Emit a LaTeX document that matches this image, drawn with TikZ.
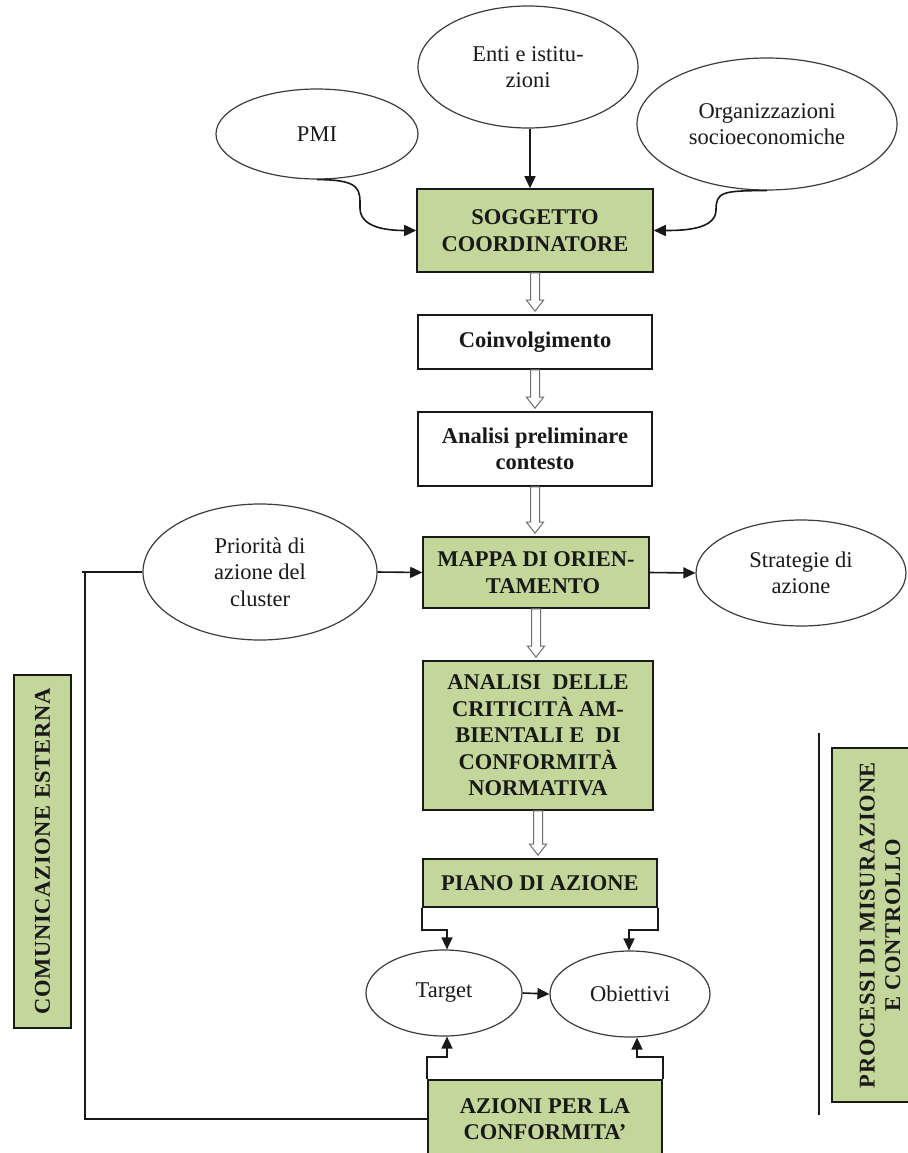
\documentclass[tikz,border=0pt]{standalone}
\usepackage{fontspec}
\setmainfont{Liberation Serif}
\usetikzlibrary{shapes.geometric,arrows.meta,calc}
\definecolor{boxgreen}{RGB}{196,215,155}
\definecolor{ink}{RGB}{25,25,25}
\definecolor{hollowgray}{RGB}{110,110,110}
\newcommand{\hollowarrow}[2]{%
  \draw[hollowstyle] let \p1=(#1.south), \p2=(#2.north) in
   (\x1-4.5pt,\y1) -- (\x1+4.5pt,\y1) -- (\x1+4.5pt,\y2+14pt) -- (\x1+8.5pt,\y2+14pt)
   -- (\x1,\y2+3pt) -- (\x1-8.5pt,\y2+14pt) -- (\x1-4.5pt,\y2+14pt) -- cycle;}
\begin{document}
\begin{tikzpicture}[x=1pt,y=-1pt,
  txt/.style={font=\fontsize{22.5}{26.5}\selectfont, text=ink, align=center, inner sep=0pt},
  gbox/.style={txt, draw=ink, line width=1.6pt, fill=boxgreen, font=\fontsize{22.5}{26.5}\selectfont\bfseries},
  wbox/.style={gbox, fill=white},
  sidebox/.style={gbox, font=\fontsize{22.5}{25.5}\selectfont\bfseries\addfontfeature{LetterSpace=3}},
  oval/.style={txt, ellipse, draw=ink!85, line width=1.2pt, fill=white},
  conn/.style={draw=ink, line width=1.6pt, -{Triangle[length=12pt,width=11pt]}},
  plain/.style={draw=ink, line width=1.5pt},
  hollowstyle/.style={draw=hollowgray, line width=1pt, fill=white}]
\fill[white] (0,0) rectangle (907,1153);
\useasboundingbox (0,0) rectangle (907,1153);

% top ellipses
\node[oval, minimum width=202pt, minimum height=90pt] (pmi) at (317,134) {PMI};
\node[oval, minimum width=220pt, minimum height=122pt] (enti) at (528,67) {Enti e istitu-\\zioni};
\node[oval, minimum width=260pt, minimum height=132pt] (org) at (767,124) {Organizzazioni\\socioeconomiche};

% main column
\node[gbox, minimum width=236pt, minimum height=83pt] (sog) at (535,230.5) {SOGGETTO\\COORDINATORE};
\node[wbox, minimum width=234pt, minimum height=54pt] (coin) at (535,342) {Coinvolgimento};
\node[wbox, minimum width=234pt, minimum height=74pt] (ana) at (535,449) {Analisi preliminare\\contesto};
\node[gbox, minimum width=226pt, minimum height=71pt] (mappa) at (536,572.5) {MAPPA DI ORIEN-\\\hspace*{14pt}TAMENTO};
\node[gbox, minimum width=230pt, minimum height=149pt] (crit) at (538,735.5) {ANALISI\ \ DELLE\\CRITICITÀ AM-\\BIENTALI E\ \ DI\\CONFORMITÀ\\NORMATIVA};
\node[gbox, minimum width=234pt, minimum height=48pt] (piano) at (540,883) {PIANO DI AZIONE};
\node[oval, minimum width=156pt, minimum height=86pt] (target) at (444,993) {Target};
\node[oval, minimum width=160pt, minimum height=86pt] (obj) at (630,994) {Obiettivi};
\node[gbox, minimum width=234pt, minimum height=78pt] (az) at (545,1119) {AZIONI PER LA\\CONFORMITA'};

% side ellipses
\node[oval, minimum width=234pt, minimum height=136pt] (prio) at (260,572) {Priorità di\\azione del\\cluster};
\node[oval, minimum width=210pt, minimum height=106pt] (strat) at (801,573) {Strategie di\\azione};

% side boxes
\node[sidebox, rotate=90, minimum width=353pt, minimum height=57pt] (com) at (42.5,851.5) {COMUNICAZIONE ESTERNA};
\node[sidebox, rotate=90, minimum width=354pt, minimum height=96pt] (proc) at (880,925) {PROCESSI DI MISURAZIONE\\E CONTROLLO};

% connectors
\draw[conn] ([xshift=2pt]enti.south) -- ([xshift=2pt]enti.south |- sog.north);
\coordinate (pmibend) at (360,208);
\coordinate (orgbend) at (716,210);
\draw[conn] (pmi.south) .. controls +(45,0) and +(0,-18) .. (pmibend) .. controls +(0,20) and +(-28,0) .. (sog.west);
\draw[conn] (org.south) .. controls +(-45,0) and +(0,-18) .. (orgbend) .. controls +(0,20) and +(28,0) .. (sog.east);

\hollowarrow{sog}{coin}
\hollowarrow{coin}{ana}
\hollowarrow{ana}{mappa}
\hollowarrow{mappa}{crit}
\hollowarrow{crit}{piano}

\draw[conn] (prio.east) -- (mappa.west);
\draw[conn] (mappa.east) -- (strat.west);
\draw[conn] (target.east) -- (obj.west);

\draw[conn] (piano.south west) -- ++(0,22) -| ([xshift=3pt]target.north);
\draw[conn] (piano.south east) -- ++(0,22) -| ([xshift=-1pt]obj.north);
\draw[conn] (az.north west) -- ++(0,-22) -| ([xshift=3pt]target.south);
\draw[conn] (az.north east) -- ++(0,-22) -| ([xshift=7pt]obj.south);

% external communication frame
\coordinate (fl) at (85,572);
\coordinate (flstart) at (82,572);
\draw[plain] (prio.west) -- (flstart);
\draw[plain] (fl) -- (fl |- az.west) -- (az.west);

% right vertical line
\coordinate (vt) at (819,733);
\coordinate (vb) at (819,1115);
\draw[plain] (vt) -- (vb);
\end{tikzpicture}
\end{document}
